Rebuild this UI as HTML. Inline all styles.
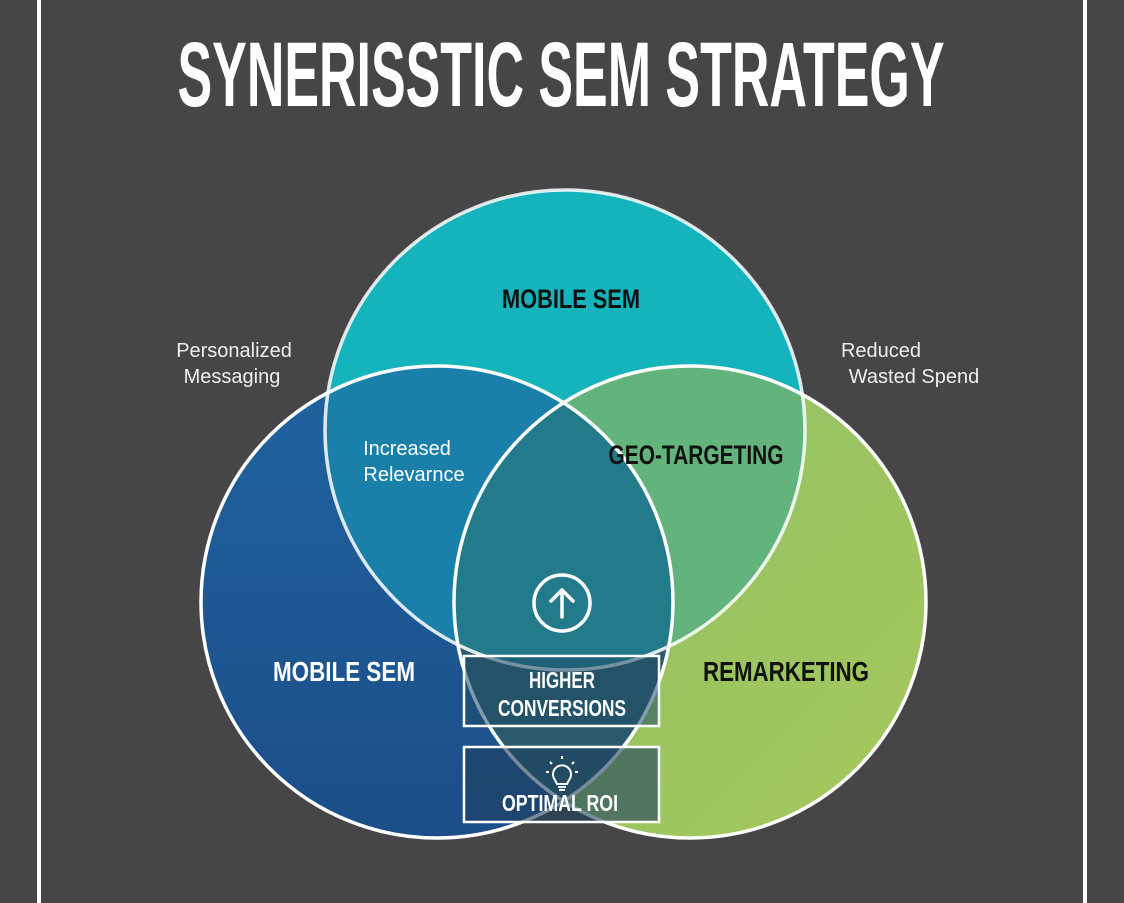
<!DOCTYPE html>
<html><head><style>
html,body{margin:0;padding:0;background:#464648;}
svg{display:block}
</style></head><body>
<svg width="1124" height="903" viewBox="0 0 1124 903" xmlns="http://www.w3.org/2000/svg">
<defs>
<clipPath id="cT"><circle cx="565" cy="430" r="240"/></clipPath>
<clipPath id="cL"><circle cx="437" cy="602" r="236"/></clipPath>
<clipPath id="cR"><circle cx="690" cy="602" r="236"/></clipPath>
<linearGradient id="gL" x1="0" y1="0" x2="0" y2="1"><stop offset="0" stop-color="#1f63a0"/><stop offset="1" stop-color="#1c4d88"/></linearGradient>
<linearGradient id="gR" x1="0" y1="0" x2="1" y2="1"><stop offset="0" stop-color="#8dc06a"/><stop offset="1" stop-color="#a6c85a"/></linearGradient>
</defs>
<rect width="1124" height="903" fill="#464648"/>
<rect x="37" y="0" width="4" height="903" fill="#fff"/>
<rect x="1083" y="0" width="4" height="903" fill="#fff"/>
<text x="561" y="106" text-anchor="middle" font-family="Liberation Sans, sans-serif" font-weight="bold" font-size="92" fill="#fff" textLength="767" lengthAdjust="spacingAndGlyphs">SYNERISSTIC SEM STRATEGY</text>

<circle cx="437" cy="602" r="236" fill="url(#gL)"/>
<circle cx="690" cy="602" r="236" fill="url(#gR)"/>
<circle cx="565" cy="430" r="240" fill="#15b3bb"/>
<g clip-path="url(#cT)"><circle cx="437" cy="602" r="236" fill="#1a80aa"/></g>
<g clip-path="url(#cT)"><circle cx="690" cy="602" r="236" fill="#63b47c"/></g>
<g clip-path="url(#cL)"><circle cx="690" cy="602" r="236" fill="#2c5a6c"/></g>
<g clip-path="url(#cL)"><g clip-path="url(#cR)"><circle cx="565" cy="430" r="240" fill="#237a8a"/></g></g>

<g fill="none" stroke="#fff" stroke-width="3.5">
<circle cx="437" cy="602" r="236"/>
<circle cx="690" cy="602" r="236"/>
<circle cx="565" cy="430" r="240" stroke-opacity="0.85"/>
</g>

<rect x="464" y="656" width="195" height="70" fill="#1e4d68" fill-opacity="0.55" stroke="#fff" stroke-width="2.5"/>
<rect x="464" y="747" width="195" height="75" fill="#1e3f5e" fill-opacity="0.6" stroke="#fff" stroke-width="2.5"/>

<g font-family="Liberation Sans, sans-serif" font-weight="bold" text-anchor="middle">
<text x="571" y="308" font-size="27" fill="#111" textLength="138" lengthAdjust="spacingAndGlyphs">MOBILE SEM</text>
<text x="696" y="464" font-size="27" fill="#111" textLength="175" lengthAdjust="spacingAndGlyphs">GEO-TARGETING</text>
<text x="344" y="681" font-size="28" fill="#fff" textLength="142" lengthAdjust="spacingAndGlyphs">MOBILE SEM</text>
<text x="786" y="681" font-size="28" fill="#111" textLength="166" lengthAdjust="spacingAndGlyphs">REMARKETING</text>
<text x="562" y="688" font-size="23" fill="#fff" textLength="66" lengthAdjust="spacingAndGlyphs">HIGHER</text>
<text x="562" y="716" font-size="23" fill="#fff" textLength="128" lengthAdjust="spacingAndGlyphs">CONVERSIONS</text>
<text x="560" y="811" font-size="23" fill="#fff" textLength="116" lengthAdjust="spacingAndGlyphs">OPTIMAL ROI</text>
</g>
<g font-family="Liberation Sans, sans-serif" font-size="20" text-anchor="middle">
<text x="234" y="357" fill="#eee">Personalized</text>
<text x="232" y="383" fill="#eee">Messaging</text>
<text x="881" y="357" fill="#eee">Reduced</text>
<text x="914" y="383" fill="#eee">Wasted Spend</text>
<text x="407" y="455" fill="#fff">Increased</text>
<text x="414" y="481" fill="#fff">Relevarnce</text>
</g>

<circle cx="562" cy="603" r="28" fill="none" stroke="#fff" stroke-width="3.5"/>
<path d="M562 617 V590 M551 601 L562 590 L573 601" fill="none" stroke="#fff" stroke-width="3.5" stroke-linecap="round" stroke-linejoin="round"/>
<g fill="none" stroke="#fff" stroke-width="2">
<path d="M555 780 a9 9 0 1 1 14 0 l-2 4 h-10 z"/>
<path d="M558 787 h8 M559 790 h6"/>
<path d="M562 756 v3 M550 762 l2 2 M574 762 l-2 2 M546 772 h3 M575 772 h3"/>
</g>
</svg>
</body></html>
